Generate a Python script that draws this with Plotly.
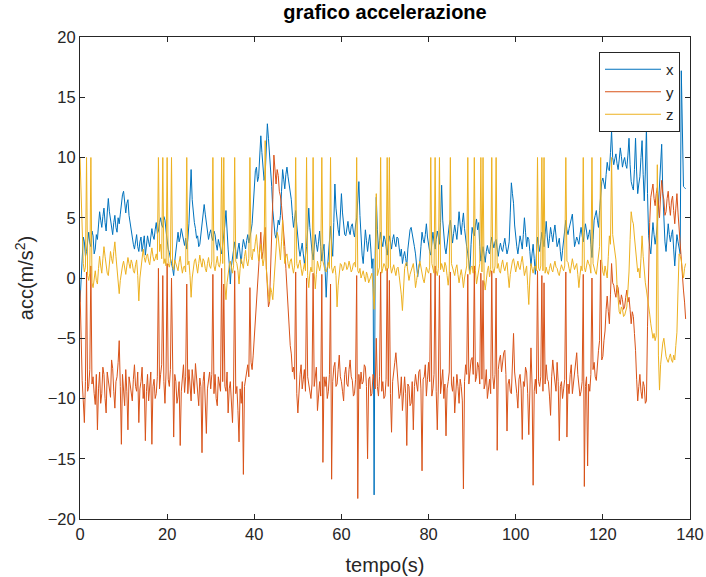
import plotly.graph_objects as go

DT = 0.25  # sampling step (s)

acc_x = [
    -2.0, -0.5, 1.5, 3.4, 3.0, 1.8, 2.2, 3.1, 3.8, 2.9, 2.6, 3.9, 3.5, 2.0, 2.4, 3.6, 3.2, 4.4, 5.5, 4.8,
    4.2, 5.1, 5.8, 4.6, 3.9, 5.4, 6.6, 5.5, 4.8, 3.9, 3.6, 4.6, 5.2, 4.2, 3.8, 5.0, 4.5, 5.3, 6.2, 6.9,
    7.2, 6.0, 5.4, 6.2, 6.5, 5.2, 4.6, 3.6, 3.1, 2.8, 2.4, 3.0, 3.6, 2.6, 2.2, 3.0, 3.4, 2.2, 2.8, 3.5,
    1.9, 2.7, 3.5, 3.0, 2.6, 3.4, 4.1, 3.5, 3.2, 4.0, 4.6, 3.7, 3.9, 4.6, 5.0, 4.4, 4.2, 5.1, 4.8, 3.9,
    3.0, 2.4, 2.1, 1.5, 1.2, 0.8, 0.2, 1.4, 2.4, 3.0, 3.8, 3.0, 3.4, 4.1, 3.6, 3.0, 2.7, 3.3, 2.4, 3.2,
    4.5, 6.8, 9.0, 6.5, 5.2, 4.6, 4.1, 3.3, 3.5, 2.6, 2.8, 3.7, 4.4, 5.0, 6.1, 5.3, 4.6, 3.8, 3.2, 3.7,
    4.0, 3.4, 3.1, 3.9, 3.6, 2.8, 2.3, 3.2, 2.9, 2.4, 2.0, 2.7, 3.3, 4.4, 5.6, 3.5, 2.4, 1.2, -0.5, 1.0,
    1.8, 2.6, 3.0, 2.2, 1.6, 2.4, 2.9, 2.0, 1.2, 2.5, 3.2, 2.8, 2.4, 3.1, 3.6, 2.9, 3.3, 3.9, 4.5, 6.2,
    7.8, 8.9, 9.2, 8.0, 8.4, 10.2, 11.8, 10.4, 9.5, 8.1, 8.6, 10.9, 12.8, 11.6, 10.5, 8.8, 7.6, 5.6, 4.2, 3.6,
    3.3, 4.2, 4.8, 4.4, 5.2, 7.2, 9.0, 8.2, 7.4, 8.6, 9.2, 8.4, 7.8, 7.0, 6.5, 5.2, 4.2, 4.9, 5.6, 4.4,
    3.2, 2.4, 1.8, 2.5, 2.9, 2.0, 1.2, 1.9, 2.6, 4.0, 5.8, 4.2, 3.0, 2.2, 1.5, 2.6, 3.6, 2.8, 2.2, 3.0,
    3.9, 2.6, 1.4, 2.2, 2.8, 0.8, -1.6, 0.6, 2.0, 3.4, 4.3, 2.9, 1.8, 4.6, 7.8, 5.8, 4.6, 4.0, 3.5, 5.2,
    7.0, 5.4, 4.2, 3.6, 3.5, 4.2, 4.7, 3.9, 3.6, 4.3, 4.5, 3.8, 3.4, 4.4, 5.0, 6.4, 8.0, 5.2, 3.0, 1.9,
    1.2, 2.8, 4.0, 3.1, 2.2, 3.0, 3.6, 2.4, 0.8, 1.6, -18.0, 2.0, 6.7, 4.0, 2.4, 3.1, 3.8, 3.0, 2.6, 3.5,
    3.2, 2.6, 1.9, 2.8, 3.5, 3.0, 2.4, 3.2, 3.6, 2.9, 2.6, 3.4, 3.3, 2.5, 1.8, 2.4, 1.2, 1.8, 2.2, 1.6,
    1.0, 2.4, 3.6, 4.0, 4.2, 3.7, 3.4, 2.6, 2.0, 0.9, 0.1, 0.8, 1.4, 2.6, 3.8, 3.2, 2.9, 3.6, 4.5, 3.4,
    2.6, 2.2, 1.9, 2.9, 3.8, 3.0, 2.4, 3.2, 3.9, 3.4, 2.8, 4.6, 7.7, 4.8, 3.2, 2.5, 2.0, 2.9, 3.8, 4.4,
    4.8, 3.6, 2.9, 3.7, 4.4, 3.8, 3.2, 4.3, 5.5, 4.4, 3.6, 4.6, 5.4, 4.1, 3.0, 2.6, 2.0, 1.2, 0.6, 2.8,
    4.2, 3.7, 3.5, 4.4, 4.9, 4.0, 4.6, 2.6, 1.4, 2.0, 2.6, 1.9, 1.3, 2.2, 2.7, 2.2, 2.0, 2.8, 3.4, 2.9,
    2.5, 3.0, 3.2, 2.4, 1.8, 2.5, 2.9, 2.4, 2.2, 2.8, 3.3, 2.6, 2.0, 2.4, 3.0, 5.4, 7.9, 7.0, 6.2, 4.4,
    3.2, 2.6, 2.0, 2.8, 3.5, 3.0, 2.4, 3.6, 5.0, 3.8, 2.6, 3.4, 3.2, 2.2, 1.0, 2.0, 2.8, 1.6, 0.3, 2.0,
    3.4, 2.8, 2.2, 3.0, 3.8, 3.2, 2.6, 3.6, 4.7, 3.4, 2.5, 3.3, 4.2, 3.6, 3.0, 3.8, 4.4, 3.5, 2.6, 2.9,
    3.3, 2.2, 1.4, 2.3, 3.0, 3.9, 4.8, 4.0, 3.6, 4.1, 4.4, 4.9, 5.3, 3.8, 2.6, 3.0, 3.4, 3.1, 2.8, 3.6,
    4.2, 3.5, 3.0, 3.8, 4.5, 3.9, 3.2, 3.6, 4.0, 2.8, 1.7, 3.2, 4.8, 5.2, 5.6, 4.8, 4.2, 5.6, 7.4, 8.0,
    8.3, 7.8, 7.4, 8.6, 9.6, 9.0, 8.9, 10.4, 12.2, 10.0, 9.4, 9.9, 10.3, 9.5, 9.0, 9.8, 10.8, 10.1, 9.2, 9.7,
    10.0, 9.4, 9.1, 10.2, 11.6, 9.4, 8.0, 7.6, 7.3, 9.0, 11.6, 8.8, 7.0, 7.8, 8.4, 10.0, 11.4, 8.6, 6.4, 8.8,
    12.5, 7.0, 3.5, 2.6, 2.0, 3.4, 4.6, 3.6, 2.8, 3.5, 4.4, 6.0, 8.0, 9.6, 11.1, 7.2, 4.0, 3.0, 2.2, 3.6,
    4.5, 3.6, 3.0, 3.6, 4.0, 2.4, 1.0, 2.4, 3.6, 3.0, 2.4, 2.0, 17.2, 12.0, 7.6, 7.5, 7.4,
]

acc_y = [
    -1.0, -6.0, -8.5, -10.2, -12.0, -8.6, 0.5, -9.4, -9.0, -7.6, 1.0, -8.8, -8.2, -9.6, -10.5, -8.0, -12.6, -9.2, -7.8, -10.4,
    -9.6, -7.4, -8.0, -10.0, -11.2, -7.8, -8.4, -9.2, -9.9, -6.8, -7.5, -9.4, -10.8, -8.6, -8.2, -7.0, -5.2, -9.0, -13.8, -8.0,
    -9.0, -10.6, -7.6, -9.4, -12.6, -8.2, -8.8, -9.8, -10.2, -8.4, -7.2, -9.0, -9.4, -7.8, -12.0, -9.2, -8.6, -7.4, -10.0, -8.8,
    -13.5, -9.4, -8.0, -10.2, -9.2, -7.8, -13.8, -9.0, -8.4, -10.0, -9.6, -8.2, 0.8, -9.2, -8.0, -7.2, 0.2, -8.6, -10.4, -7.8,
    1.2, -8.4, -9.0, -7.6, 0.0, -9.8, -13.2, -8.0, -8.6, -10.4, -9.8, -8.6, -13.9, -9.4, -8.2, -7.2, -9.5, -8.2, -0.5, -9.6,
    -7.6, -8.8, -10.2, -7.6, -8.4, -9.6, -7.1, -8.4, -9.8, -10.6, -8.3, -9.0, -14.5, -8.6, -7.8, -10.2, -12.9, -9.2, -8.6, -7.8,
    -9.2, -8.0, 0.3, -9.6, -8.0, -10.0, -10.6, -8.2, -8.8, -9.4, 0.8, -8.6, -0.5, -9.0, -9.4, -7.8, -11.2, -9.2, -8.6, -10.2,
    -12.0, -8.8, 0.6, -9.6, -9.0, -11.0, -13.6, -9.2, -10.4, -8.6, -16.3, -9.0, -8.4, -7.6, -7.2, -8.2, -0.8, -7.0, -7.6, -6.4,
    -5.0, -3.2, -2.0, -0.6, 1.0, 2.6, 3.8, 1.6, 2.2, 3.4, 4.2, 1.0, -1.2, -2.4, -2.0, 0.4, 2.5, 6.5, 10.2, 8.6,
    7.8, 9.0, 8.5, 7.2, 6.8, 6.0, 5.0, 3.8, 2.6, 0.8, -1.0, -2.8, -4.5, -5.6, -6.3, -7.8, -7.4, -8.4, 0.5, -9.6,
    -11.2, -9.0, -8.0, -7.2, -9.2, -8.4, -7.6, -9.4, 0.0, -8.2, -8.8, -9.6, -10.0, -8.8, 0.4, -9.0, -8.2, -7.4, -11.0, -9.2,
    -8.6, -9.8, 0.3, -15.3, -8.2, -9.0, -8.2, -10.0, -9.4, -8.0, -0.5, -16.7, -8.6, -7.4, -7.0, -9.0, -8.8, -7.6, -6.4, -8.2,
    -8.6, -9.4, -10.2, -8.0, -7.4, -8.8, -9.0, -7.6, -6.8, -8.2, -8.5, -9.8, -9.6, -8.4, 0.2, -18.3, -8.0, -9.2, -7.8, -8.8,
    -8.6, -7.2, -7.4, -9.0, -15.0, -8.4, -8.2, -9.8, -9.6, -8.0, -8.4, -9.2, -5.0, -9.0, -9.8, -8.2, 0.5, -9.4, -8.6, -10.0,
    -9.8, -8.4, 0.8, -9.0, -0.2, -9.6, -12.8, -8.6, -8.0, -7.0, -6.2, -7.8, -8.4, -10.0, -9.6, -8.2, -11.0, -9.4, -8.2, -9.6,
    -13.9, -8.8, -9.0, -10.6, -10.4, -8.6, -12.6, -9.0, -8.0, -8.8, -9.4, -7.8, -7.6, -9.2, -16.0, -8.4, -8.2, -7.2, -9.8, -8.4,
    -7.0, -8.6, 0.4, -9.8, -9.2, -8.0, 1.0, -9.4, -12.6, -8.8, 0.2, -9.6, -8.4, -7.6, -10.0, -8.8, -13.1, -9.2, -8.6, -7.8,
    0.5, -8.8, -9.4, -8.2, -11.2, -9.6, -8.0, -9.0, -10.4, -8.4, -9.0, -10.2, -17.5, -8.6, -7.2, -8.0, 0.3, -8.8, -7.8, -6.8,
    -6.6, -8.0, 1.0, -8.6, -8.2, -7.0, -7.4, -8.8, 0.4, -8.4, -0.2, -9.2, -8.8, -7.6, -10.0, -9.0, -8.4, -9.6, 0.6, -8.2,
    -9.2, -8.0, 0.0, -14.3, -7.6, -6.8, -6.4, -7.8, -7.0, -6.2, -6.0, -8.0, -12.7, -8.8, -8.4, -9.4, -9.6, -7.2, -4.6, -7.8,
    -8.6, -9.6, -10.8, -8.4, -8.0, -9.2, -13.4, -8.6, -9.0, -7.4, -7.8, -9.6, -13.0, -8.0, -5.8, -8.8, -17.2, -9.4, -8.4, -9.6,
    0.6, -8.6, -9.0, -8.2, 0.2, -9.4, -0.4, -8.8, -7.2, -8.4, -8.6, -9.8, -11.4, -8.2, -6.8, -7.8, -8.4, -9.4, -7.0, -8.6,
    -13.5, -9.0, -8.6, -10.0, -9.2, -8.4, 0.5, -13.2, -8.8, -9.6, -8.0, -7.2, -9.6, -8.6, -7.8, -6.8, -6.2, -8.0, -8.8, -9.8,
    -9.4, -8.6, 0.3, -17.3, -9.0, -8.2, -15.6, -8.8, -9.4, -8.0, 0.0, -7.6, -7.0, -8.2, -8.5, -6.8, -6.0, -5.2, 1.5, -6.8,
    -6.5, -5.2, -4.4, -2.6, -1.5, -2.8, -3.8, -1.4, 1.2, -0.4, -0.6, -1.2, -1.6, -0.6, -0.8, -1.8, -2.2, -1.4, -1.8, -2.6,
    -2.4, -1.6, -1.0, -2.0, -1.6, -2.6, -3.8, -2.8, -3.2, -4.6, -6.0, -8.4, -10.2, -9.0, -8.0, -9.4, -10.0, -8.6, -9.0, -10.4,
    -10.2, -4.0, 1.7, 4.6, 6.7, 7.2, 7.8, 6.6, 6.0, 7.0, 7.5, 6.2, 5.0, 6.8, 8.1, 7.0, 6.5, 5.2, 5.5, 6.6,
    7.2, 6.0, 5.2, 6.4, 6.8, 5.6, 4.5, 5.8, 7.0, 5.4, 4.0, 2.6, 1.0, 0.2, -1.0, -2.0, -3.4,
]

acc_z = [
    10.0, 7.0, 4.0, 1.2, 0.5, 0.9, 10.0, 0.2, -0.2, 0.4, 10.0, -0.4, -0.8, 0.2, 0.6, -0.2, -0.5, 0.8, 1.8, 1.0,
    0.4, 1.6, 2.6, 1.8, 1.0, 0.4, 0.2, 1.4, 2.2, 1.6, 1.2, 2.2, 3.0, 1.8, 0.8, -0.4, -1.3, -0.2, 0.6, 1.0,
    1.4, 0.8, 0.3, 1.0, 1.7, 1.2, 0.8, 1.5, 1.2, 0.6, 0.4, 1.1, 1.5, 0.2, -1.9, 0.0, 1.0, 1.8, 2.4, 1.7,
    1.3, 1.8, 2.0, 1.4, 1.1, 1.9, 2.5, 1.8, 1.4, 1.6, 2.0, 1.5, 10.0, 2.2, 2.8, 1.6, 10.0, 1.2, 1.6, 1.0,
    10.0, 1.2, 0.9, 1.4, 10.0, 1.0, 0.7, 1.5, 1.2, 0.8, 0.6, 1.3, 1.8, 1.0, 0.4, 0.9, 1.0, 0.5, 10.0, 1.1,
    1.4, 0.2, -1.6, 0.0, 0.8, 1.4, 1.6, 0.9, 0.4, 1.2, 1.9, 1.3, 0.9, 1.6, 1.4, 0.8, 0.5, 1.2, 1.7, 1.0,
    0.8, 1.4, 10.0, 1.0, 0.6, 1.2, 1.8, 1.1, 0.9, 1.4, 10.0, 1.2, 10.0, -0.6, -1.8, -0.4, 0.6, 1.0, 1.4, 0.8,
    0.4, 1.0, 10.0, 1.4, 1.2, 0.6, -0.5, 0.8, 1.6, 1.2, 0.8, 1.8, 2.3, 1.4, 1.0, 1.6, 10.0, 1.8, 1.5, 2.4,
    2.2, 3.0, 3.6, 2.4, 1.4, 2.2, 2.8, 1.8, 1.0, 1.6, 11.4, 0.8, -0.6, -1.4, -2.0, -0.8, -1.2, -1.8, -0.4, 1.2,
    2.6, 3.8, 3.4, 2.2, 1.5, 3.0, 4.8, 2.6, 1.2, 1.8, 2.0, 1.2, 0.8, 1.4, 1.6, 0.9, 0.4, 1.0, 10.0, 1.2,
    0.8, 1.2, 1.5, 0.8, 0.2, 0.7, 1.2, 0.6, 10.0, 0.2, -0.8, 0.4, 0.9, 0.5, 10.0, 0.4, -0.9, 0.3, 1.4, 1.0,
    0.6, 1.1, 10.0, 1.4, 1.0, 0.6, 0.5, 1.0, 1.3, 0.8, 10.0, 0.9, 0.4, 0.8, 1.0, 0.2, -2.4, -0.6, 0.6, 1.2,
    1.1, 0.6, 0.8, 1.3, 1.2, 0.7, 0.9, 1.4, 1.0, 0.5, 0.7, 1.2, 1.3, 0.9, 10.0, 0.6, 0.4, 0.8, 0.0, 0.4,
    0.6, 0.1, -0.3, 0.5, 0.2, -0.4, -0.1, 0.3, 0.4, -0.8, -2.6, -0.5, 7.0, 0.2, 0.5, 0.9, 10.0, 0.4, 0.8, 1.2,
    1.0, 0.6, 10.0, 0.8, 10.0, 1.0, 0.4, 0.9, 1.1, 0.6, 0.2, 0.8, 0.9, 0.2, -0.5, -1.4, -2.7, -0.6, 0.8, 1.2,
    1.3, 0.5, -0.2, 0.3, 0.6, 1.0, 1.2, 0.4, -0.8, -0.2, 0.5, 1.0, 1.4, 0.8, 0.3, -0.1, -0.4, 0.4, 0.9, 0.6,
    0.4, 0.9, 10.0, 1.2, 0.8, 0.4, 10.0, 0.6, 0.2, 0.8, 10.0, 0.7, 1.2, 0.9, 0.5, 1.3, 1.0, 0.2, -0.6, 0.4,
    10.0, 1.2, 0.9, 0.4, 0.2, 0.8, 1.1, 0.3, -0.4, 0.2, 0.7, 0.1, -0.8, 0.0, 0.6, 1.0, 10.0, 0.8, 0.3, 0.9,
    1.0, 0.4, 10.0, 0.6, -0.5, 0.2, 0.8, 1.2, 10.0, 0.5, 10.0, -0.2, -1.0, 0.0, 0.6, 1.0, 0.1, 0.7, 10.0, 0.8,
    0.4, 1.0, 10.0, 0.8, 1.2, 0.6, 0.4, 1.1, 1.5, 0.9, 0.6, 1.0, 1.3, 0.2, -0.8, 0.3, 0.9, 1.4, 1.6, 1.0,
    0.5, 1.0, 1.4, 0.9, 0.7, 1.3, 1.8, 1.0, 0.2, 0.6, 1.0, -0.6, -2.2, 0.0, 1.2, 0.8, 0.4, 0.9, 1.0, 0.6,
    10.0, 0.8, 0.6, 1.0, 10.0, 0.6, 10.0, 0.4, 0.9, 0.5, 0.3, 0.8, 1.2, 0.7, 0.5, 1.0, 1.4, 0.9, 0.8, 0.4,
    0.2, 0.7, 1.1, 0.8, 0.6, 1.0, 10.0, 1.4, 1.3, 0.8, 0.4, 1.0, 1.6, 1.1, 0.7, 1.0, 1.2, 0.3, -0.8, 0.2,
    1.0, 0.6, 10.0, 0.9, 0.5, 1.0, 1.5, 1.2, 1.0, 0.4, 10.0, 1.2, 0.8, 0.5, 0.3, 1.0, 2.0, 2.6, 10.0, 1.4,
    0.5, 0.2, 1.0, 0.6, 0.0, 1.8, 3.5, 2.8, 10.0, 3.6, 3.0, 2.2, 1.5, -0.6, -2.2, -2.8, -3.0, -2.4, -2.6, -3.2,
    -3.1, -2.6, -2.4, -1.0, 0.5, 3.2, 5.5, 4.8, 4.5, 3.4, 2.5, 1.2, 0.5, 0.8, 0.0, 1.6, 3.5, 1.8, 0.5, -0.4,
    -1.0, -1.6, -2.0, -3.0, -3.8, -4.6, -5.0, -4.6, -5.2, -4.8, 9.4, -6.4, -9.3, -7.2, -6.0, -5.4, -5.0, -5.8, -6.5, -6.8,
    -7.0, -6.6, -6.3, -6.8, -7.0, -6.4, -6.8, -5.6, -4.5, -1.0, 2.0, 1.8, 1.5, 0.6, 0.0, 0.8, 1.2,
]

series_names = ["x", "y", "z"]
series_values = [acc_x, acc_y, acc_z]
series_colors = ["#0072BD", "#D95319", "#EDB120"]
x_ticks = [0, 20, 40, 60, 80, 100, 120, 140]
y_ticks = [-20, -15, -10, -5, 0, 5, 10, 15, 20]

AX = "#262626"
FONT = "Liberation Sans, Arial, Helvetica, sans-serif"

fig = go.Figure()
for name, vals, col in zip(series_names, series_values, series_colors):
    tempo = [i * DT for i in range(len(vals))]
    fig.add_trace(go.Scatter(x=tempo, y=vals, mode="lines", name=name,
                             line=dict(color=col, width=1)))

axis_common = dict(showline=True, linecolor=AX, linewidth=1, mirror="ticks",
                   ticks="inside", ticklen=5, tickcolor=AX, tickwidth=1,
                   showgrid=False, zeroline=False, automargin=False,
                   tickfont=dict(family=FONT, size=16.5, color=AX))

fig.update_layout(
    width=706, height=577,
    margin=dict(l=80, r=16, t=37, b=58),
    paper_bgcolor="white", plot_bgcolor="white",
    font=dict(family=FONT, color=AX),
    title=dict(text="grafico accelerazione", x=0.5, xref="paper", xanchor="center",
               y=1 - 12 / 577, yref="container", yanchor="middle",
               font=dict(family=FONT, size=20, color="black", weight="bold")),
    xaxis=dict(range=[0, 140], tickvals=x_ticks,
               title=dict(text="tempo(s)", font=dict(family=FONT, size=20, color=AX), standoff=16),
               **axis_common),
    yaxis=dict(range=[-20, 20], tickvals=y_ticks,
               title=dict(text="acc(m/s<sup>2</sup>)", font=dict(family=FONT, size=20, color=AX), standoff=8),
               **axis_common),
    legend=dict(x=(680 - 80) / 610, y=(519 - 52) / 482, xanchor="right", yanchor="top",
                bgcolor="white", bordercolor=AX, borderwidth=1, itemwidth=56,
                font=dict(family=FONT, size=15, color=AX)),
    showlegend=True,
)

fig.write_html("out.html")
